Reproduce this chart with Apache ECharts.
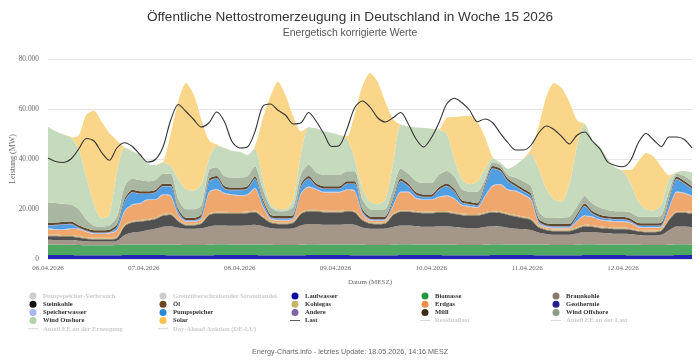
<!DOCTYPE html>
<html>
<head>
<meta charset="utf-8">
<script src="https://cdn.jsdelivr.net/npm/echarts@6/dist/echarts.min.js"></script>
<style>
  html, body { margin: 0; padding: 0; background: #fff; }
  #chart { width: 700px; height: 364px; }
</style>
</head>
<body>
<div id="chart"></div>
<script>
// Werte in GW, alle 2 Stunden von 06.04.2026 00:00 bis 13.04.2026 00:00 (85 Punkte)
const tage = ['06.04.2026', '07.04.2026', '08.04.2026', '09.04.2026', '10.04.2026', '11.04.2026', '12.04.2026']

const laufwasser = [
  1.6, 1.6, 1.6, 1.6, 1.5, 1.5, 1.5, 1.5, 1.5, 1.5, 1.6, 1.6, 1.6,
  1.6, 1.6, 1.6, 1.5, 1.5, 1.5, 1.5, 1.5, 1.5, 1.6, 1.6, 1.6,
  1.6, 1.6, 1.6, 1.5, 1.5, 1.5, 1.5, 1.5, 1.5, 1.6, 1.6, 1.6,
  1.6, 1.6, 1.6, 1.5, 1.5, 1.5, 1.5, 1.5, 1.5, 1.6, 1.6, 1.6,
  1.6, 1.6, 1.6, 1.5, 1.5, 1.5, 1.5, 1.5, 1.5, 1.6, 1.6, 1.6,
  1.6, 1.6, 1.6, 1.5, 1.5, 1.5, 1.5, 1.5, 1.5, 1.6, 1.6, 1.6,
  1.6, 1.6, 1.6, 1.5, 1.5, 1.5, 1.5, 1.5, 1.5, 1.6, 1.6, 1.6,
]
const biomasse = [
  4.2, 4.2, 4.1, 4.1, 4.1, 4.0, 4.0, 4.0, 4.0, 4.1, 4.2, 4.2, 4.2,
  4.2, 4.2, 4.2, 4.3, 4.2, 4.1, 4.1, 4.1, 4.2, 4.3, 4.3, 4.2,
  4.2, 4.2, 4.2, 4.3, 4.2, 4.1, 4.1, 4.1, 4.2, 4.3, 4.3, 4.2,
  4.2, 4.2, 4.2, 4.3, 4.2, 4.1, 4.1, 4.1, 4.2, 4.3, 4.3, 4.2,
  4.2, 4.2, 4.2, 4.3, 4.2, 4.1, 4.1, 4.1, 4.2, 4.3, 4.3, 4.2,
  4.2, 4.2, 4.2, 4.3, 4.2, 4.1, 4.1, 4.1, 4.2, 4.3, 4.3, 4.2,
  4.2, 4.2, 4.2, 4.3, 4.2, 4.1, 4.1, 4.1, 4.2, 4.3, 4.3, 4.2,
]
const braunkohle = [
  1.9, 1.8, 1.8, 1.8, 1.7, 1.6, 1.5, 1.5, 1.5, 1.7, 3.8, 4.8, 5.1,
  5.8, 6.3, 7.1, 7.3, 6.8, 6.5, 6.5, 6.7, 7.3, 7.5, 7.5, 7.5,
  7.5, 7.7, 7.9, 7.3, 6.7, 6.5, 6.5, 6.7, 7.7, 8.1, 8.1, 7.9,
  7.9, 7.9, 8.1, 7.9, 6.9, 6.5, 6.5, 6.6, 7.1, 7.5, 7.5, 7.3,
  7.1, 7.1, 7.3, 7.3, 7.1, 6.9, 6.8, 6.8, 7.1, 7.3, 7.1, 6.7,
  6.3, 6.1, 5.8, 4.8, 4.3, 4.1, 4.1, 4.1, 4.5, 4.9, 4.9, 4.7,
  4.5, 4.3, 4.3, 4.1, 3.9, 3.8, 3.8, 4.1, 5.8, 7.1, 7.1, 6.9,
]
const steinkohle = [
  1.4, 1.5, 1.4, 1.4, 1.2, 0.9, 0.8, 0.8, 0.8, 1.0, 3.5, 4.0, 4.0,
  3.7, 3.8, 4.4, 4.5, 2.5, 1.3, 1.3, 1.8, 4.5, 4.8, 4.8, 4.8,
  4.8, 4.8, 5.0, 3.5, 2.1, 1.8, 1.8, 2.1, 4.6, 5.0, 5.0, 4.9,
  4.9, 4.9, 5.0, 4.9, 2.9, 2.0, 1.8, 1.9, 4.7, 5.4, 5.4, 5.4,
  5.4, 5.4, 5.4, 5.4, 5.2, 5.0, 4.9, 4.9, 5.2, 5.4, 5.4, 5.1,
  4.8, 4.4, 4.0, 2.0, 1.5, 1.4, 1.4, 1.4, 1.8, 2.2, 2.0, 1.8,
  1.8, 1.8, 1.8, 1.7, 1.4, 1.3, 1.3, 1.5, 4.0, 5.4, 5.4, 5.4,
]
const oel = [
  0.3, 0.3, 0.3, 0.3, 0.3, 0.3, 0.3, 0.3, 0.3, 0.3, 0.3, 0.3, 0.3,
  0.3, 0.3, 0.3, 0.3, 0.3, 0.3, 0.3, 0.3, 0.3, 0.3, 0.3, 0.3,
  0.3, 0.3, 0.3, 0.3, 0.3, 0.3, 0.3, 0.3, 0.3, 0.3, 0.3, 0.3,
  0.3, 0.3, 0.3, 0.3, 0.3, 0.3, 0.3, 0.3, 0.3, 0.3, 0.3, 0.3,
  0.3, 0.3, 0.3, 0.3, 0.3, 0.3, 0.3, 0.3, 0.3, 0.3, 0.3, 0.3,
  0.3, 0.3, 0.3, 0.3, 0.3, 0.3, 0.3, 0.3, 0.3, 0.3, 0.3, 0.3,
  0.3, 0.3, 0.3, 0.3, 0.3, 0.3, 0.3, 0.3, 0.3, 0.3, 0.3, 0.3,
]
const kohlegas = [
  0.4, 0.4, 0.4, 0.4, 0.4, 0.4, 0.4, 0.4, 0.4, 0.4, 0.4, 0.4, 0.4,
  0.4, 0.4, 0.4, 0.4, 0.4, 0.4, 0.4, 0.4, 0.4, 0.4, 0.4, 0.4,
  0.4, 0.4, 0.4, 0.4, 0.4, 0.4, 0.4, 0.4, 0.4, 0.4, 0.4, 0.4,
  0.4, 0.4, 0.4, 0.4, 0.4, 0.4, 0.4, 0.4, 0.4, 0.4, 0.4, 0.4,
  0.4, 0.4, 0.4, 0.4, 0.4, 0.4, 0.4, 0.4, 0.4, 0.4, 0.4, 0.4,
  0.4, 0.4, 0.4, 0.4, 0.4, 0.4, 0.4, 0.4, 0.4, 0.4, 0.4, 0.4,
  0.4, 0.4, 0.4, 0.4, 0.4, 0.4, 0.4, 0.4, 0.4, 0.4, 0.4, 0.4,
]
const erdgas = [
  2.1, 1.9, 2.0, 2.4, 2.7, 2.1, 1.5, 1.5, 1.7, 2.4, 5.3, 6.3, 6.5,
  7.6, 7.0, 7.6, 6.8, 1.8, 0.8, 0.8, 1.1, 8.3, 8.8, 7.3, 6.8,
  6.5, 6.6, 8.7, 3.8, 0.8, 0.8, 0.8, 0.8, 7.3, 9.0, 8.0, 7.3,
  7.3, 7.3, 8.0, 7.8, 1.8, 0.6, 0.6, 0.6, 2.8, 7.2, 7.2, 5.0,
  4.6, 4.6, 5.5, 6.0, 5.3, 3.2, 2.9, 2.4, 6.3, 9.9, 10.6, 9.3,
  9.5, 8.6, 7.3, 0.8, 0.5, 0.5, 0.5, 0.5, 2.3, 3.5, 3.2, 2.6,
  2.3, 2.3, 2.3, 2.0, 1.0, 1.1, 1.1, 0.8, 3.8, 7.6, 7.1, 6.3,
]
const geothermie = [
  0.03, 0.03, 0.03, 0.03, 0.03, 0.03, 0.03, 0.03, 0.03, 0.03, 0.03, 0.03, 0.03,
  0.03, 0.03, 0.03, 0.03, 0.03, 0.03, 0.03, 0.03, 0.03, 0.03, 0.03, 0.03,
  0.03, 0.03, 0.03, 0.03, 0.03, 0.03, 0.03, 0.03, 0.03, 0.03, 0.03, 0.03,
  0.03, 0.03, 0.03, 0.03, 0.03, 0.03, 0.03, 0.03, 0.03, 0.03, 0.03, 0.03,
  0.03, 0.03, 0.03, 0.03, 0.03, 0.03, 0.03, 0.03, 0.03, 0.03, 0.03, 0.03,
  0.03, 0.03, 0.03, 0.03, 0.03, 0.03, 0.03, 0.03, 0.03, 0.03, 0.03, 0.03,
  0.03, 0.03, 0.03, 0.03, 0.03, 0.03, 0.03, 0.03, 0.03, 0.03, 0.03, 0.03,
]
const speicherwasser = [
  0.3, 0.3, 0.3, 0.3, 0.3, 0.3, 0.3, 0.3, 0.3, 0.3, 0.3, 0.3, 0.3,
  0.3, 0.3, 0.3, 0.3, 0.3, 0.3, 0.3, 0.3, 0.3, 0.3, 0.3, 0.3,
  0.3, 0.3, 0.3, 0.3, 0.3, 0.3, 0.3, 0.3, 0.3, 0.3, 0.3, 0.3,
  0.3, 0.3, 0.3, 0.3, 0.3, 0.3, 0.3, 0.3, 0.3, 0.3, 0.3, 0.3,
  0.3, 0.3, 0.3, 0.3, 0.3, 0.3, 0.3, 0.3, 0.3, 0.3, 0.3, 0.3,
  0.3, 0.3, 0.3, 0.3, 0.3, 0.3, 0.3, 0.3, 0.3, 0.3, 0.3, 0.3,
  0.3, 0.3, 0.3, 0.3, 0.3, 0.3, 0.3, 0.3, 0.3, 0.3, 0.3, 0.3,
]
const pumpspeicher = [
  1.1, 1.5, 1.8, 1.6, 0.2, 0.1, 0.1, 0.1, 0.1, 1.1, 3.6, 4.7, 3.6,
  2.1, 2.6, 3.1, 3.6, 1.1, 0.2, 0.2, 0.6, 4.1, 4.1, 1.6, 1.6,
  1.9, 2.1, 3.6, 1.6, 0.4, 0.4, 0.4, 0.4, 2.6, 3.1, 1.1, 1.1,
  1.1, 1.1, 2.1, 2.6, 0.6, 0.2, 0.2, 0.2, 1.6, 4.1, 2.1, 1.1,
  0.8, 0.8, 2.6, 3.6, 2.6, 0.7, 0.6, 0.5, 3.6, 6.6, 5.1, 3.1,
  1.6, 1.1, 1.1, 0.6, 0.2, 0.3, 0.3, 0.3, 1.6, 3.6, 1.1, 0.7,
  0.6, 0.6, 0.6, 0.4, 0.3, 0.4, 0.4, 0.4, 2.6, 4.9, 3.6, 2.6,
]
const andere = [
  0.2, 0.2, 0.2, 0.2, 0.2, 0.2, 0.2, 0.2, 0.2, 0.2, 0.2, 0.2, 0.2,
  0.2, 0.2, 0.2, 0.2, 0.2, 0.2, 0.2, 0.2, 0.2, 0.2, 0.2, 0.2,
  0.2, 0.2, 0.2, 0.2, 0.2, 0.2, 0.2, 0.2, 0.2, 0.2, 0.2, 0.2,
  0.2, 0.2, 0.2, 0.2, 0.2, 0.2, 0.2, 0.2, 0.2, 0.2, 0.2, 0.2,
  0.2, 0.2, 0.2, 0.2, 0.2, 0.2, 0.2, 0.2, 0.2, 0.2, 0.2, 0.2,
  0.2, 0.2, 0.2, 0.2, 0.2, 0.2, 0.2, 0.2, 0.2, 0.2, 0.2, 0.2,
  0.2, 0.2, 0.2, 0.2, 0.2, 0.2, 0.2, 0.2, 0.2, 0.2, 0.2, 0.2,
]
const muell = [
  0.9, 0.9, 0.9, 0.9, 0.9, 0.9, 0.9, 0.9, 0.9, 0.9, 0.9, 0.9, 0.9,
  0.9, 0.9, 0.9, 0.9, 0.9, 0.9, 0.9, 0.9, 0.9, 0.9, 0.9, 0.9,
  0.9, 0.9, 0.9, 0.9, 0.9, 0.9, 0.9, 0.9, 0.9, 0.9, 0.9, 0.9,
  0.9, 0.9, 0.9, 0.9, 0.9, 0.9, 0.9, 0.9, 0.9, 0.9, 0.9, 0.9,
  0.9, 0.9, 0.9, 0.9, 0.9, 0.9, 0.9, 0.9, 0.9, 0.9, 0.9, 0.9,
  0.9, 0.9, 0.9, 0.9, 0.9, 0.9, 0.9, 0.9, 0.9, 0.9, 0.9, 0.9,
  0.9, 0.9, 0.9, 0.9, 0.9, 0.9, 0.9, 0.9, 0.9, 0.9, 0.9, 0.9,
]
const windOffshore = [
  8.2, 7.8, 7.2, 6.8, 6.4, 3.5, 1.8, 1.5, 1.7, 3.0, 5.0, 4.4, 4.5,
  4.0, 4.0, 4.0, 4.0, 4.0, 3.4, 3.4, 3.5, 3.5, 3.5, 4.0, 4.0,
  4.0, 4.0, 4.0, 4.0, 3.2, 1.9, 2.0, 3.2, 4.0, 4.5, 4.5, 4.5,
  4.5, 4.5, 4.0, 4.0, 4.0, 2.9, 2.8, 2.9, 4.0, 4.0, 4.0, 4.5,
  4.6, 4.6, 5.0, 5.0, 5.0, 4.4, 4.0, 4.6, 2.0, 1.5, 1.5, 1.5,
  2.5, 3.0, 3.0, 3.0, 2.2, 2.4, 2.6, 2.9, 3.0, 3.0, 3.0, 2.9,
  2.5, 2.2, 2.2, 2.5, 2.6, 2.6, 2.6, 2.9, 3.0, 1.2, 2.0, 2.0,
]
const windOnshore = [
  30.3, 28.7, 27.8, 26.8, 24.0, 17.0, 8.5, 3.2, 4.4, 18.0, 15.5, 11.0, 10.1,
  7.0, 6.0, 4.5, 3.0, 8.0, 8.0, 7.5, 8.5, 4.5, 8.5, 11.2, 10.7,
  10.3, 8.5, 7.0, 4.0, 1.0, 0.8, 0.7, 3.0, 8.0, 15.0, 17.5, 17.5,
  16.9, 16.0, 13.0, 5.0, 4.0, 3.0, 2.3, 4.0, 10.0, 17.5, 18.8, 21.4,
  22.1, 21.7, 18.0, 14.9, 7.0, 4.0, 3.0, 4.0, 4.0, 1.5, 0.9, 2.5,
  5.0, 9.0, 13.0, 17.0, 11.5, 7.5, 6.3, 13.0, 24.0, 28.8, 25.5, 24.3,
  20.5, 17.5, 16.0, 11.5, 6.0, 3.0, 2.5, 4.5, 5.0, 0.5, 2.0, 3.5,
]
const solar = [
  0, 0, 0, 0, 5.5, 25.0, 37.5, 38.6, 32.6, 12.5, 0, 0, 0,
  0, 0, 0, 13.0, 31.0, 42.5, 38.5, 26.0, 7.5, 0.6, 0, 0,
  0, 0, 1.0, 24.0, 43.0, 51.0, 45.5, 33.0, 9.0, 0, 0, 0,
  0, 0, 1.0, 18.0, 41.0, 51.5, 49.0, 39.0, 18.0, 0, 0, 0,
  0, 0, 0.2, 6.4, 16.8, 25.2, 27.4, 24.0, 12.8, 0.5, 0, 0,
  0, 0, 2.0, 17.0, 37.0, 46.5, 45.5, 33.0, 10.5, 0, 0, 0,
  0, 0, 0.5, 5.5, 16.0, 22.5, 21.5, 15.0, 1.5, 0, 0, 0,
]
const last = [
  40.4, 39.0, 38.6, 40.0, 44.0, 48.2, 47.2, 42.6, 39.5, 44.5, 46.5, 45.0, 41.8,
  38.8, 39.8, 44.8, 55.5, 61.8, 59.0, 55.8, 52.8, 54.5, 58.8, 55.0, 47.0,
  44.4, 44.8, 51.0, 61.0, 62.0, 59.5, 57.5, 54.0, 54.5, 58.6, 55.0, 50.0,
  45.0, 45.4, 52.0, 60.5, 63.2, 60.8, 56.5, 54.8, 56.5, 58.6, 54.0, 48.0,
  44.8, 48.5, 54.5, 62.0, 64.3, 62.5, 59.5, 54.9, 56.0, 54.5, 50.3, 46.5,
  43.6, 43.6, 45.5, 50.4, 53.2, 51.8, 49.0, 46.0, 49.5, 50.8, 47.2, 44.0,
  38.8, 37.4, 36.9, 39.5, 46.5, 50.2, 47.6, 45.0, 48.8, 48.8, 47.8, 44.4,
]

// Zeitachse (2h-Raster)
const zeiten = []
tage.forEach((tag) => {
  for (let h = 0; h < 24; h += 2) zeiten.push(tag.slice(0, 6) + ' ' + String(h).padStart(2, '0') + ':00')
})
zeiten.push('13.04. 00:00')

// [Name, Daten, Legendenfarbe, Flächenfarbe]
const stapel = [
  ['Laufwasser', laufwasser, '#0a0aa0', '#2427b3'],
  ['Biomasse', biomasse, '#22963c', '#4fa862'],
  ['Braunkohle', braunkohle, '#8a7868', '#a4978a'],
  ['Steinkohle', steinkohle, '#111111', '#505050'],
  ['Öl', oel, '#704522', '#8a6a4a'],
  ['Kohlegas', kohlegas, '#c6b46a', '#cbbd7e'],
  ['Erdgas', erdgas, '#ee8e45', '#f0a76e'],
  ['Geothermie', geothermie, '#22208c', '#3a37a0'],
  ['Speicherwasser', speicherwasser, '#a3b8f5', '#b8c8f4'],
  ['Pumpspeicher', pumpspeicher, '#2a86d8', '#509fe2'],
  ['Andere', andere, '#7f64a8', '#9a85bb'],
  ['Müll', muell, '#3e2a10', '#5e4a30'],
  ['Wind Offshore', windOffshore, '#8c9c88', '#a9b6a2'],
  ['Wind Onshore', windOnshore, '#b4d0a6', '#c6dabd'],
  ['Solar', solar, '#f7c14a', '#fad68a'],
]

const series = stapel.map(([name, data, farbe, flaeche]) => ({
  name,
  type: 'line',
  stack: 'erzeugung',
  data,
  symbol: 'none',
  smooth: 0.25,
  itemStyle: { color: farbe },
  lineStyle: { width: 0 },
  areaStyle: { color: flaeche, opacity: 1 },
}))

// ausgeblendete Reihen (nur in der Legende)
const ausgeblendetFlaeche = ['Pumpspeicher-Verbrauch', 'Grenzüberschreitender Stromhandel']
const ausgeblendetLinie = ['Residuallast', 'Anteil EE an der Last', 'Anteil EE an der Erzeugung', 'Day-Ahead Auktion (DE-LU)']
ausgeblendetFlaeche.forEach((name) => {
  series.push({ name, type: 'line', data: [], symbol: 'none', itemStyle: { color: '#aaa' }, areaStyle: {} })
})
ausgeblendetLinie.forEach((name) => {
  series.push({ name, type: 'line', data: [], symbol: 'none', itemStyle: { color: '#aaa' }, lineStyle: { width: 1 } })
})

series.push({
  name: 'Last',
  type: 'line',
  data: last,
  symbol: 'none',
  smooth: 0.3,
  z: 5,
  itemStyle: { color: '#333' },
  lineStyle: { color: '#333', width: 1.1 },
})

const linienNamen = ['Last'].concat(ausgeblendetLinie)
const linienIcon = 'path://M0,0 M20,14 M0,6.2 L20,6.2 L20,7.8 L0,7.8 Z'
const spalten = [
  ['Pumpspeicher-Verbrauch', 'Steinkohle', 'Speicherwasser', 'Wind Onshore', 'Anteil EE an der Erzeugung'],
  ['Grenzüberschreitender Stromhandel', 'Öl', 'Pumpspeicher', 'Solar', 'Day-Ahead Auktion (DE-LU)'],
  ['Laufwasser', 'Kohlegas', 'Andere', 'Last'],
  ['Biomasse', 'Erdgas', 'Müll', 'Residuallast'],
  ['Braunkohle', 'Geothermie', 'Wind Offshore', 'Anteil EE an der Last'],
]
const spaltenLinks = [23, 153, 285, 415, 546]

const legenden = spalten.map((namen, i) => {
  const selected = {}
  namen.forEach((n) => {
    if (ausgeblendetFlaeche.includes(n) || ausgeblendetLinie.includes(n)) selected[n] = false
  })
  return {
    orient: 'vertical',
    left: spaltenLinks[i],
    top: 287,
    padding: 5,
    itemWidth: 10,
    itemHeight: 7,
    itemGap: 0.2,
    selectedMode: false,
    inactiveColor: '#cccccc',
    selected,
    data: namen.map((n) => ({ name: n, icon: linienNamen.includes(n) ? linienIcon : 'circle' })),
    textStyle: {
      fontFamily: 'Liberation Serif',
      fontWeight: 'bold',
      fontSize: 6.6,
      lineHeight: 8,
      color: '#333',
    },
  }
})

const chart = echarts.init(document.getElementById('chart'))
chart.setOption({
  animation: false,
  backgroundColor: '#fff',
  title: [
    {
      text: 'Öffentliche Nettostromerzeugung in Deutschland in Woche 15 2026',
      subtext: 'Energetisch korrigierte Werte',
      left: 'center',
      top: 5,
      itemGap: 4,
      textStyle: { fontFamily: 'Liberation Sans', fontSize: 13.6, fontWeight: 'normal', color: '#333' },
      subtextStyle: { fontFamily: 'Liberation Sans', fontSize: 10.4, color: '#555' },
    },
    {
      text: 'Energy-Charts.info - letztes Update: 18.05.2026, 14:16 MESZ',
      left: 'center',
      top: 344,
      textStyle: { fontFamily: 'Liberation Sans', fontSize: 7.2, fontWeight: 'normal', color: '#666' },
    },
  ],
  legend: legenden,
  grid: { left: 48, right: 8, top: 59, bottom: 105, containLabel: false, outerBoundsMode: 'none' },
  xAxis: [
    {
      type: 'category',
      data: zeiten,
      boundaryGap: false,
      show: false,
    },
    {
      type: 'value',
      position: 'bottom',
      min: 0,
      max: 6.72,
      interval: 1,
      axisLine: { show: false },
      axisTick: { show: false },
      splitLine: { show: false },
      axisLabel: {
        showMaxLabel: false,
        margin: 6,
        fontFamily: 'Liberation Serif',
        fontSize: 7,
        color: '#666',
        formatter: (v) => (Number.isInteger(v) && tage[v] ? tage[v] : ''),
      },
      name: 'Datum (MESZ)',
      nameLocation: 'middle',
      nameGap: 20,
      nameMoveOverlap: false,
      nameTextStyle: { fontFamily: 'Liberation Serif', fontSize: 7, color: '#666' },
    },
  ],
  yAxis: {
    type: 'value',
    min: 0,
    max: 80,
    interval: 20,
    axisLine: { show: false },
    axisTick: { show: false },
    splitLine: { lineStyle: { color: '#e6e6e6', width: 1 } },
    axisLabel: {
      margin: 9,
      fontFamily: 'Liberation Serif',
      fontSize: 7.4,
      color: '#666',
      formatter: (v) => (v === 0 ? '0' : v + '.000'),
    },
    name: 'Leistung (MW)',
    nameLocation: 'middle',
    nameGap: 31,
    nameMoveOverlap: false,
    nameTextStyle: { fontFamily: 'Liberation Serif', fontSize: 8, color: '#666' },
  },
  series,
})
</script>
</body>
</html>
